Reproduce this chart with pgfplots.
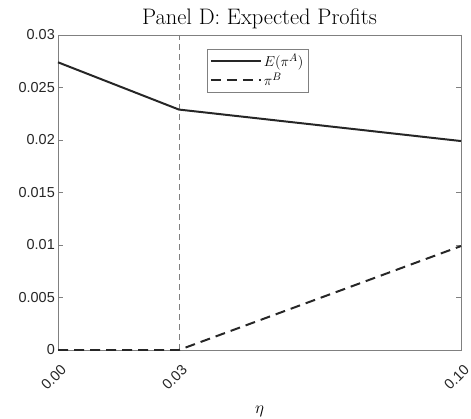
\documentclass[border=0pt]{standalone}
\usepackage{pgfplots}
\pgfplotsset{compat=1.18}
\usepackage{fontspec}
\newfontfamily\tickfont{Liberation Sans}
\definecolor{axgray}{HTML}{808080}
\definecolor{linedark}{HTML}{262626}
\begin{document}
\begin{tikzpicture}
\useasboundingbox (0,0) rectangle (471bp,419bp);
\begin{axis}[
  at={(58bp,69bp)}, anchor=south west,
  scale only axis, width=403bp, height=315bp,
  xmin=0, xmax=0.10, ymin=0, ymax=0.03,
  scaled y ticks=false, scaled x ticks=false,
  xtick={0,0.03,0.10}, xticklabels={0.00,0.03,0.10},
  ytick={0,0.005,0.01,0.015,0.02,0.025,0.03},
  yticklabels={0,0.005,0.01,0.015,0.02,0.025,0.03},
  tick align=inside, major tick length=5bp,
  axis line style={axgray, line width=0.6pt},
  tick style={axgray, line width=0.6pt},
  tick label style={font=\tickfont\fontsize{14.5}{15}\selectfont, text=linedark},
  xticklabel style={rotate=45, anchor=north east, inner sep=1pt, xshift=-7.1bp, yshift=-9.9bp},
  yticklabel style={inner sep=3pt},
  title={Panel D: Expected Profits},
  title style={font=\fontsize{22.5}{25}\selectfont, yshift=-3bp},
  xlabel={$\eta$},
  xlabel style={font=\fontsize{17}{18}\selectfont, yshift=-10bp},
  clip=false,
  legend style={at={(0.369,0.956)}, anchor=north west, draw=axgray, line width=0.6pt,
    font=\fontsize{15.5}{16}\selectfont, inner xsep=3pt, inner ysep=3pt, row sep=1pt, cells={anchor=west}},
  legend image code/.code={\draw[#1] (0bp,0bp) -- (50bp,0bp);},
]
\addplot[axgray, line width=0.7pt, dash pattern=on 6bp off 4bp, forget plot] coordinates {(0.03,0) (0.03,0.03)};
\addplot[linedark, line width=2pt] coordinates {(0,0.0274) (0.03,0.0229) (0.10,0.0199)};
\addlegendentry{$E(\pi^A)$}
\addplot[linedark, line width=2pt, dash pattern=on 10bp off 6bp] coordinates {(0,0) (0.03,0) (0.10,0.0099)};
\addlegendentry{$\pi^B$}
\end{axis}
\end{tikzpicture}
\end{document}
